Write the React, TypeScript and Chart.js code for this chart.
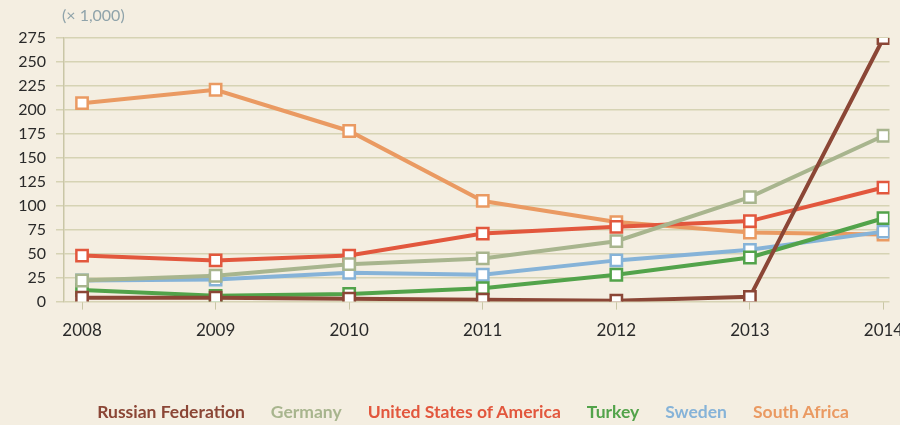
import React, { useEffect, useRef } from "react";
import { Chart, registerables } from "chart.js";

Chart.register(...registerables);

const years = [2008, 2009, 2010, 2011, 2012, 2013, 2014];
const seriesNames = ["Russian Federation", "Germany", "United States of America", "Turkey", "Sweden", "South Africa"];
const russia = [4, 4, 3, 2, 1, 5, 275];
const germany = [22, 27, 39, 45, 63, 109, 173];
const usa = [48, 43, 48, 71, 78, 84, 119];
const turkey = [12, 6, 8, 14, 28, 46, 87];
const sweden = [22, 23, 30, 28, 43, 54, 73];
const southAfrica = [207, 221, 178, 105, 83, 72, 70];
const yTicks = [0, 25, 50, 75, 100, 125, 150, 175, 200, 225, 250, 275];
const colors = ["#8B4636", "#A8B58E", "#E2573D", "#52A34A", "#86B3D8", "#EA9A62"];

const BG = "#F4EEE1";
const FONT = "Lato, 'Open Sans', sans-serif";

export default function App() {
  const ref = useRef<HTMLCanvasElement | null>(null);
  useEffect(() => {
    document.body.style.margin = "0";
    const all = [russia, germany, usa, turkey, sweden, southAfrica];
    const chart = new Chart(ref.current!, {
      type: "line",
      data: {
        datasets: all.map((vals, i) => ({
          label: seriesNames[i],
          data: vals.map((v, j) => ({ x: years[j], y: v })),
          borderColor: colors[i],
          backgroundColor: "#FFFFFF",
          borderWidth: 4,
          pointStyle: "rect",
          pointRadius: 8,
          pointBorderWidth: 2.5,
          pointBorderColor: colors[i],
          pointBackgroundColor: "#FFFFFF",
          tension: 0,
        })),
      },
      options: {
        animation: false,
        responsive: false,
        maintainAspectRatio: false,
        layout: { padding: { top: 38, left: 0, right: 0, bottom: 73 } },
        plugins: { legend: { display: false }, tooltip: { enabled: false }, title: { display: false } },
        scales: {
          x: {
            type: "linear",
            min: 2007.865,
            max: 2014.045,
            afterBuildTicks: (s: any) => {
              s.ticks = years.map((y) => ({ value: y }));
            },
            afterFit: (s: any) => {
              s.paddingLeft = 0;
              s.paddingRight = 0;
            },
            ticks: {
              callback: (v: any) => String(v),
              color: "#2A2A2A",
              font: { family: FONT, size: 17 },
              padding: 11,
              maxRotation: 0,
              autoSkip: false,
            },
            grid: { drawOnChartArea: false, drawTicks: true, tickLength: 8, color: "#C9C6A6" },
            border: { display: false },
          },
          y: {
            min: 0,
            max: 275,
            afterBuildTicks: (s: any) => {
              s.ticks = yTicks.map((v) => ({ value: v }));
            },
            afterFit: (s: any) => {
              s.width = 64;
              s.paddingTop = 0;
              s.paddingBottom = 0;
            },
            ticks: {
              color: "#2A2A2A",
              font: { family: FONT, size: 16 },
              padding: 10,
              autoSkip: false,
            },
            grid: { color: "#D6D3B4", lineWidth: 1.5, tickLength: 8 },
            border: { display: true, color: "#C9C6A6", width: 1.5 },
          },
        },
      },
    });
    return () => chart.destroy();
  }, []);

  return (
    <div style={{ position: "absolute", left: 0, top: 0, width: 900, height: 425, background: BG, overflow: "hidden" }}>
      <canvas ref={ref} width={900} height={425} style={{ position: "absolute", left: 0, top: 0 }} />
      <div style={{ position: "absolute", left: 62, top: 5, fontFamily: FONT, fontSize: 16, color: "#8FA3AA" }}>(× 1,000)</div>
      <div
        style={{
          position: "absolute",
          left: 0,
          width: 946,
          top: 401,
          textAlign: "center",
          fontFamily: FONT,
          fontWeight: 700,
          fontSize: 17.5,
          whiteSpace: "nowrap",
        }}
      >
        {seriesNames.map((n, i) => (
          <span key={n} style={{ color: colors[i], margin: "0 13px" }}>
            {n}
          </span>
        ))}
      </div>
    </div>
  );
}
